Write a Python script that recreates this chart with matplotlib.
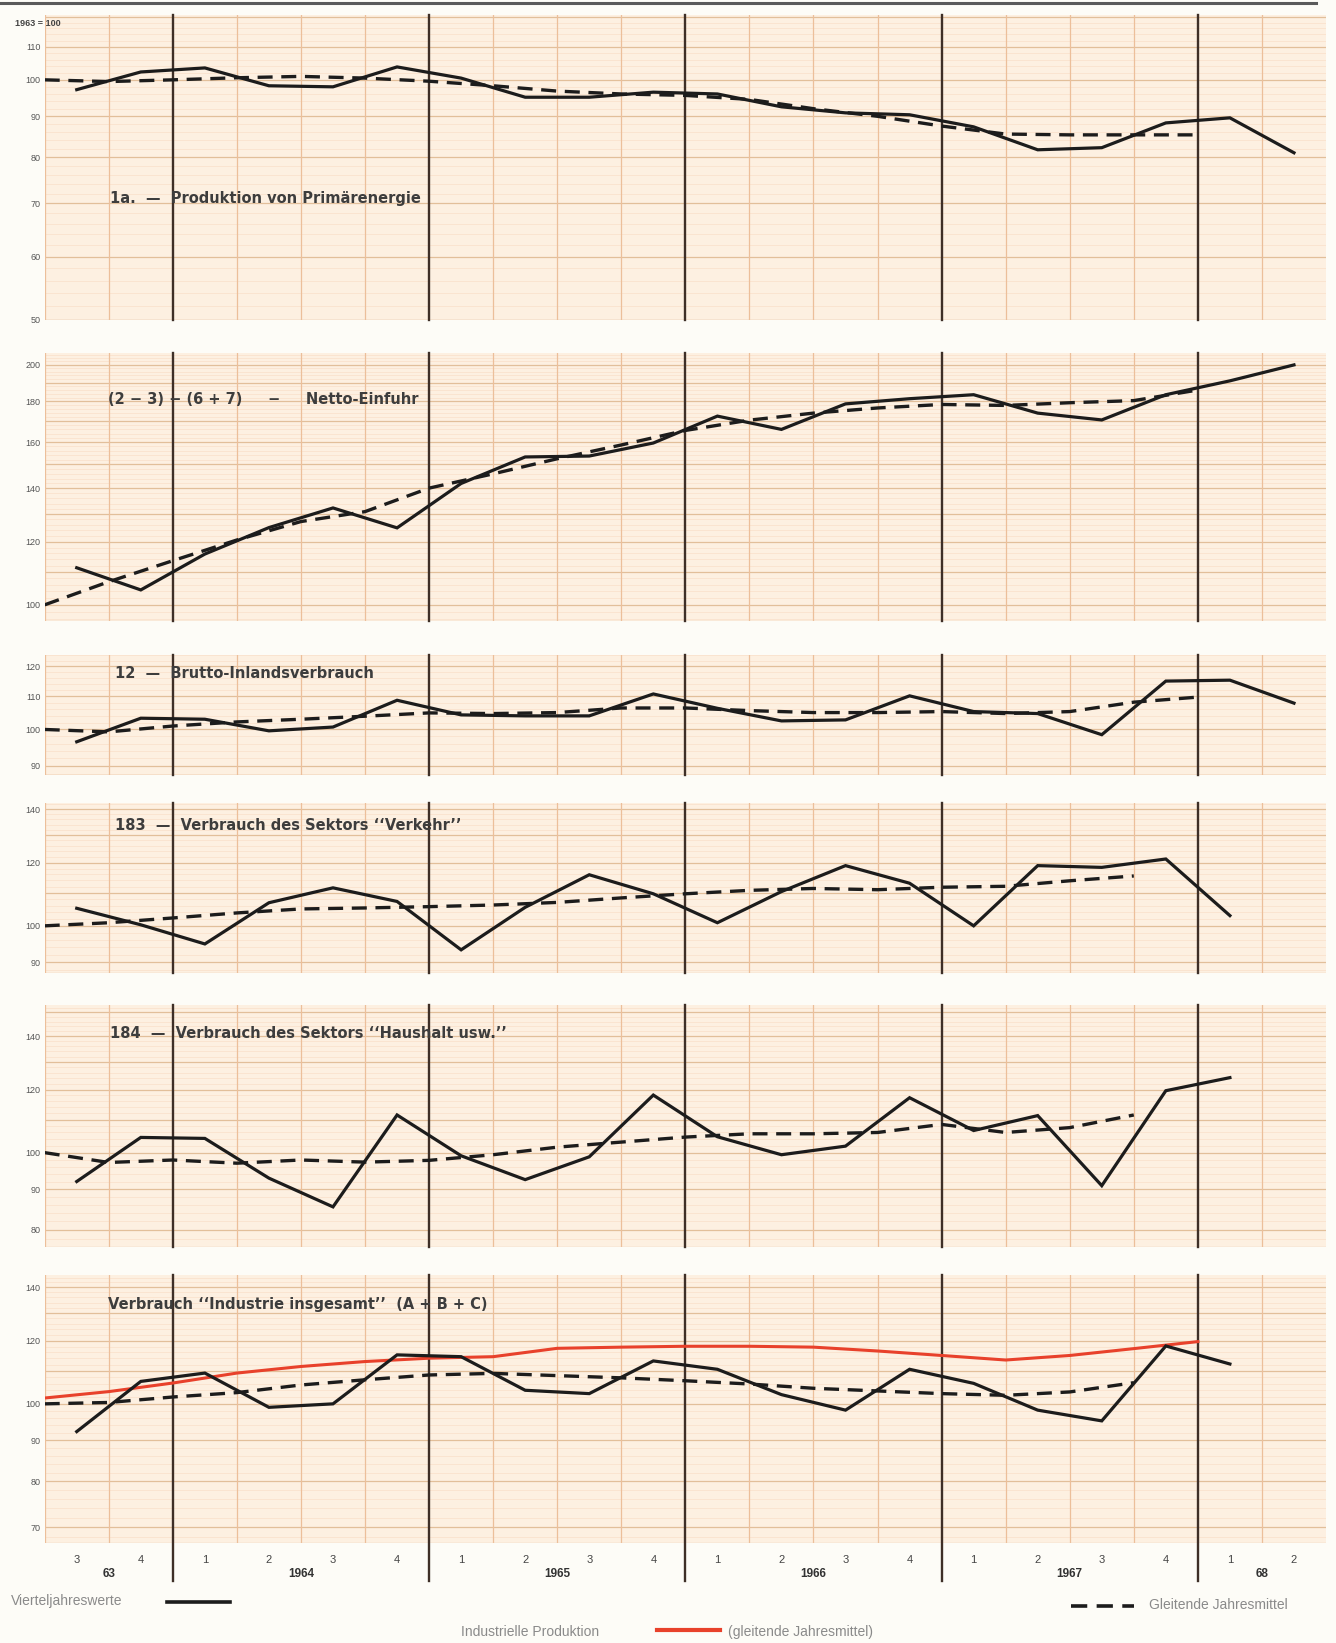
import numpy as np
import matplotlib.pyplot as plt
from matplotlib.lines import Line2D

plt.rcParams['font.family'] = ['Liberation Sans', 'DejaVu Sans']

# figure geometry (pixels) of the semi-log chart paper
W, H = 1336, 1643
DECADE_PX = 797.0          # pixels for a factor of ten on every panel
X0_PX, X1_PX = 44.7, 1326.0

# quarters 1963 Q3 ... 1968 Q2, values plotted at quarter centres
quarter_labels = ['3', '4', '1', '2', '3', '4', '1', '2', '3', '4',
                  '1', '2', '3', '4', '1', '2', '3', '4', '1', '2']
year_labels = ['63', '1964', '1965', '1966', '1967', '68']
year_of_quarter = [0, 0, 1, 1, 1, 1, 2, 2, 2, 2, 3, 3, 3, 3, 4, 4, 4, 4, 5, 5]

# ---- data (1963 = 100) ----
# quarterly values (solid line)
prod_q = [97.2, 102.3, 103.5, 98.3, 98.0, 103.8, 100.5, 95.1, 95.1, 96.5,
          96.0, 92.5, 90.9, 90.4, 87.3, 81.7, 82.2, 88.3, 89.6, 81.0]
import_q = [111.3, 104.4, 115.8, 125.0, 132.3, 124.9, 142.0, 153.3, 153.7, 159.6,
            172.5, 166.0, 178.7, 181.4, 183.5, 174.0, 170.6, 183.5, 191.0, 200.0]
gross_q = [96.5, 103.3, 103.0, 99.6, 100.7, 108.8, 104.3, 104.0, 104.0, 110.8,
           106.3, 102.5, 102.8, 110.2, 105.3, 104.7, 98.5, 115.0, 115.3, 107.9]
traffic_q = [105.2, 100.3, 94.9, 106.9, 111.6, 107.3, 93.3, 105.5, 115.9, 109.7,
             100.9, 110.4, 119.0, 113.1, 100.0, 119.0, 118.4, 121.3, 103.0]
household_q = [92.0, 104.5, 104.2, 92.9, 85.5, 111.5, 99.1, 92.5, 98.8, 118.1,
               104.7, 99.4, 101.9, 117.2, 106.6, 111.3, 90.9, 119.6, 124.2]
industry_q = [92.3, 106.7, 109.3, 99.0, 100.0, 115.2, 114.6, 104.0, 103.0, 113.2,
              110.5, 102.7, 98.2, 110.5, 106.1, 98.2, 95.2, 118.2, 112.2]

# moving annual averages (dashed line), plotted at quarter boundaries
prod_ma = [100.0, 99.5, 100.0, 100.6, 101.0, 100.5, 99.6, 98.3, 96.8, 96.0,
           95.6, 94.5, 92.0, 90.0, 87.5, 85.5, 85.3, 85.3, 85.3]
import_ma = [100.0, 106.9, 113.6, 120.6, 127.2, 130.9, 140.1, 146.0, 152.5, 158.7,
             165.5, 170.5, 174.0, 176.6, 178.4, 177.9, 179.3, 180.4, 186.0]
gross_ma = [100.0, 99.3, 101.0, 102.2, 103.0, 103.9, 104.9, 104.7, 105.0, 106.4,
            106.4, 105.6, 105.0, 105.0, 105.3, 104.7, 105.3, 108.2, 109.8]
traffic_ma = [100.0, 100.9, 102.3, 103.8, 105.0, 105.3, 105.7, 106.2, 107.0, 108.4,
              109.7, 110.8, 111.4, 111.0, 111.8, 112.1, 113.9, 115.5]
household_ma = [100.0, 97.2, 97.9, 97.0, 97.9, 97.3, 97.8, 99.4, 101.6, 103.1,
                104.6, 105.6, 105.6, 106.0, 108.5, 106.0, 107.5, 111.5]
industry_ma = [100.0, 100.4, 102.0, 103.3, 105.6, 107.2, 108.7, 109.2, 108.5, 107.8,
               106.9, 105.9, 104.6, 103.8, 103.0, 102.5, 103.5, 106.3]

# industrial production, moving annual average (red)
indprod_ma = [101.7, 103.6, 106.2, 109.3, 111.4, 113.0, 114.1, 114.6, 117.4, 117.8,
              118.1, 118.1, 117.8, 116.5, 115.0, 113.5, 115.0, 117.3, 119.7]

titles = ['1a.  —  Produktion von Primärenergie',
          '(2 − 3) − (6 + 7)     −     Netto-Einfuhr',
          '12  —  Brutto-Inlandsverbrauch',
          '183  —  Verbrauch des Sektors \u2018\u2018Verkehr\u2019\u2019',
          '184  —  Verbrauch des Sektors \u2018\u2018Haushalt usw.\u2019\u2019',
          'Verbrauch \u2018\u2018Industrie insgesamt\u2019\u2019  (A + B + C)']
title_pos = [(1.02, 71), (0.99, 181), (1.1, 117.4), (1.1, 133.6), (1.02, 140.9), (0.99, 133.3)]
panel_top_px = [15, 353, 655, 803, 1005, 1275]
panel_ylim = [(50, 120.6), (95.3, 207), (87.6, 124), (87.2, 142.6), (76.2, 153.2), (66.9, 145.1)]
panel_yticks = [[50, 60, 70, 80, 90, 100, 110],
                [100, 120, 140, 160, 180, 200],
                [90, 100, 110, 120],
                [90, 100, 120, 140],
                [80, 90, 100, 120, 140],
                [70, 80, 90, 100, 120, 140]]
quarterly = [prod_q, import_q, gross_q, traffic_q, household_q, industry_q]
moving = [prod_ma, import_ma, gross_ma, traffic_ma, household_ma, industry_ma]

PAPER = '#fdf0e1'
MINOR = '#f8dcc3'
MAJOR = '#e2bf9a'
QLINE = '#ecbf9a'
YEARLINE = '#3e2f27'
INK = '#1c1c1c'
RED = '#e8412b'

fig = plt.figure(figsize=(W / 100, H / 100), dpi=100)
fig.patch.set_facecolor('#fdfcf7')

n_q = len(quarter_labels)
xq = np.arange(n_q) + 0.5
xb = np.arange(n_q + 1)
year_bounds = [i for i in range(1, n_q) if year_of_quarter[i] != year_of_quarter[i - 1]]

axes = []
for k in range(6):
    lo, hi = panel_ylim[k]
    h_px = DECADE_PX * np.log10(hi / lo)
    top = panel_top_px[k]
    ax = fig.add_axes([X0_PX / W, 1 - (top + h_px) / H, (X1_PX - X0_PX) / W, h_px / H])
    ax.set_facecolor(PAPER)
    ax.set_yscale('log')
    ax.set_xlim(0, n_q)
    ax.set_ylim(lo, hi)
    for s in ax.spines.values():
        s.set_visible(False)

    # log paper grid
    for v in range(int(np.ceil(lo)), int(hi) + 1):
        if v % 10 == 0:
            ax.axhline(v, color=MAJOR, lw=0.9, zorder=1)
        elif v % 2 == 0:
            ax.axhline(v, color=MINOR, lw=0.4, zorder=0.5)
    ax.axhline(lo, color=MAJOR, lw=0.9, zorder=1)
    for b in xb[:-1]:
        if b in year_bounds:
            continue
        ax.axvline(b, color=QLINE, lw=0.9, zorder=1)
    extra = 0.0
    if k == 5:
        extra = 38 / h_px
    for b in year_bounds:
        ax.axvline(b, ymin=-extra, ymax=1.0, color=YEARLINE, lw=1.7, zorder=2, clip_on=False)

    ax.set_yticks(panel_yticks[k])
    ax.set_yticklabels([str(t) for t in panel_yticks[k]])
    ax.yaxis.set_minor_locator(plt.NullLocator())
    ax.tick_params(axis='y', length=0, pad=3, labelsize=6.5, labelcolor='#555555')

    q = quarterly[k]
    m = moving[k]
    ax.plot(xq[:len(q)], q, color=INK, lw=2.3, solid_joinstyle='miter', zorder=5)
    ax.plot(xb[:len(m)], m, color=INK, lw=2.4, ls=(0, (4.5, 2.6)), zorder=4)
    if k == 5:
        ax.plot(xb[:len(indprod_ma)], indprod_ma, color=RED, lw=2.2, zorder=3)

    tx, ty = title_pos[k]
    ax.text(tx, ty, titles[k], fontsize=10.5, color='#3d3d3d', ha='left', va='center',
            fontweight='bold', family='DejaVu Sans', zorder=6)
    axes.append(ax)

# x axis labels under the last panel
axb = axes[-1]
axb.set_xticks(xq)
axb.set_xticklabels(quarter_labels)
axb.tick_params(axis='x', length=0, pad=9, labelsize=8, labelcolor='#444444')
for a in axes[:-1]:
    a.set_xticks([])
yl = axb.get_xaxis_transform()
for yi, lab in enumerate(year_labels):
    xs = [xq[i] for i in range(n_q) if year_of_quarter[i] == yi]
    axb.text(np.mean(xs), -0.115, lab, transform=yl, ha='center', va='center',
             fontsize=8.5, fontweight='bold', color='#333333')

fig.text(15 / W, 1 - 24 / H, '1963 = 100', fontsize=6.5, fontweight='bold',
         color='#444444', ha='left', va='center')

# page rule at the top
fig.add_artist(Line2D([0.0, 0.985], [1 - 3 / H, 1 - 3 / H], color='#5a5a5a', lw=2.2))

# legend
leg_col = '#8a8a8a'
fig.text(11 / W, 1 - 1601 / H, 'Vierteljahreswerte', fontsize=10, color=leg_col,
         ha='left', va='center')
fig.add_artist(Line2D([167 / W, 230 / W], [1 - 1602 / H] * 2, color=INK, lw=2.6))
fig.add_artist(Line2D([1071 / W, 1134 / W], [1 - 1606 / H] * 2, color=INK, lw=2.6,
                      ls=(0, (4.5, 2.6))))
fig.text(1149 / W, 1 - 1605 / H, 'Gleitende Jahresmittel', fontsize=10, color=leg_col,
         ha='left', va='center')
fig.text(461 / W, 1 - 1632 / H, 'Industrielle Produktion', fontsize=10, color=leg_col,
         ha='left', va='center')
fig.add_artist(Line2D([657 / W, 720 / W], [1 - 1630 / H] * 2, color=RED, lw=3))
fig.text(728 / W, 1 - 1632 / H, '(gleitende Jahresmittel)', fontsize=10, color=leg_col,
         ha='left', va='center')

fig.savefig('out.png', dpi=100, facecolor=fig.get_facecolor())
